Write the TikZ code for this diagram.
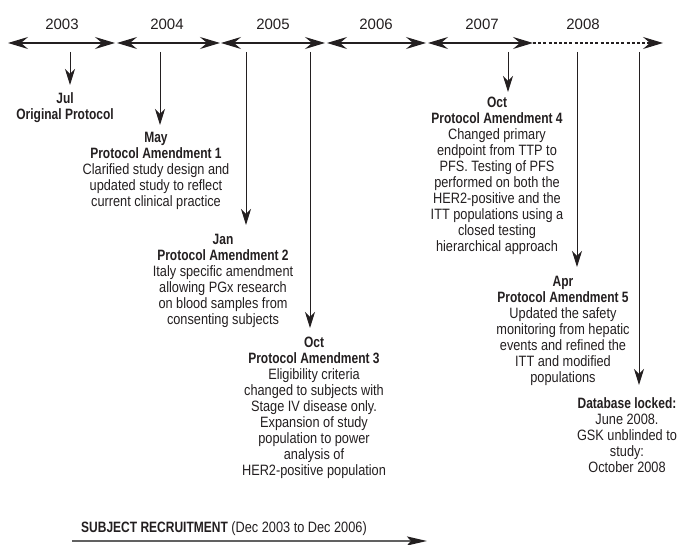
\documentclass[tikz,border=0pt]{standalone}
\usepackage{fontspec}
\setmainfont{Liberation Sans}[FakeStretch=0.85,BoldFeatures={FakeStretch=0.8}]
\newfontfamily\yearfont{Liberation Sans}
\usetikzlibrary{arrows.meta}
\definecolor{ink}{HTML}{231F20}
\begin{document}
\begin{tikzpicture}[x=1pt,y=1pt,
  bighead/.tip={Stealth[length=20pt,width=12pt,inset=7pt]},
  vhead/.tip={Stealth[length=16pt,width=10pt,inset=5pt]},
  tl/.style={line width=1.1pt,draw=ink,bighead-bighead},
  tldash/.style={line width=1.1pt,draw=ink,dash pattern=on 3pt off 2.2pt,-bighead},
  vline/.style={line width=1pt,draw=ink,-vhead},
  year/.style={font=\yearfont\fontsize{15}{16}\selectfont,text=ink,inner sep=0pt},
  lab/.style={align=center,inner sep=0pt,anchor=north,font=\fontsize{15}{16}\selectfont,text=ink},
]
\useasboundingbox (0,0) rectangle (680,545);
% timeline
\coordinate (a0) at (8,502);
\coordinate (a1) at (115,502);
\coordinate (b0) at (117,502);
\coordinate (b1) at (220,502);
\coordinate (c0) at (221,502);
\coordinate (c1) at (325,502);
\coordinate (d0) at (327,502);
\coordinate (d1) at (426,502);
\coordinate (e0) at (428,502);
\coordinate (e1) at (533,502);
\coordinate (f1) at (663,502);
\draw[tldash] (e1) -- (f1);
\draw[tl] (a0) -- (a1);
\draw[tl] (b0) -- (b1);
\draw[tl] (c0) -- (c1);
\draw[tl] (d0) -- (d1);
\draw[tl] (e0) -- (e1);
\node[year] (y3) at (62,521) {2003};
\node[year] (y4) at (167,521) {2004};
\node[year] (y5) at (273,521) {2005};
\node[year] (y6) at (376,521) {2006};
\node[year] (y7) at (482,521) {2007};
\node[year] (y8) at (583,521) {2008};
% labels
\node[lab] (jul) at (65,453) {\textbf{Jul}\\\textbf{Original Protocol}};
\node[lab] (may) at (156,413) {\textbf{May}\\\textbf{Protocol Amendment 1}\\Clarified study design and\\updated study to reflect\\current clinical practice};
\node[lab] (jan) at (223,311) {\textbf{Jan}\\\textbf{Protocol Amendment 2}\\Italy specific amendment\\allowing PGx research\\on blood samples from\\consenting subjects};
\node[lab] (oct5) at (314,208) {\textbf{Oct}\\\textbf{Protocol Amendment 3}\\Eligibility criteria\\changed to subjects with\\Stage IV disease only.\\Expansion of study\\population to power\\analysis of\\HER2-positive population};
\node[lab] (oct7) at (497,448) {\textbf{Oct}\\\textbf{Protocol Amendment 4}\\Changed primary\\endpoint from TTP to\\PFS. Testing of PFS\\performed on both the\\HER2-positive and the\\ITT populations using a\\closed testing\\hierarchical approach};
\node[lab] (apr) at (563,269) {\textbf{Apr}\\\textbf{Protocol Amendment 5}\\Updated the safety\\monitoring from hepatic\\events and refined the\\ITT and modified\\populations};
\node[lab] (db) at (627,148) {\textbf{Database locked:}\\June 2008.\\GSK unblinded to\\study:\\October 2008};
% vertical arrows
\coordinate (s1) at (70,493);  \coordinate (t1) at (70,460);
\coordinate (s2) at (160,493); \coordinate (t2) at (160,420);
\coordinate (s3) at (246,493); \coordinate (t3) at (246,320);
\coordinate (s4) at (310,493); \coordinate (t4) at (310,217);
\coordinate (s5) at (508,493); \coordinate (t5) at (508,453);
\coordinate (s6) at (577,493); \coordinate (t6) at (577,278);
\coordinate (s7) at (639,493); \coordinate (t7) at (639,160);
\draw[vline] (s1) -- (t1);
\draw[vline] (s2) -- (t2);
\draw[vline] (s3) -- (t3);
\draw[vline] (s4) -- (t4);
\draw[vline] (s5) -- (t5);
\draw[vline] (s6) -- (t6);
\draw[vline] (s7) -- (t7);
% recruitment
\node[anchor=base west,inner sep=0pt,font=\fontsize{15}{16}\selectfont,text=ink] (rec) at (81,12) {\textbf{SUBJECT RECRUITMENT} (Dec 2003 to Dec 2006)};
\coordinate (r0) at (72,4);
\coordinate (r1) at (427,4);
\draw[line width=2.2pt,draw=black!62,-{Stealth[length=20pt,width=9pt,inset=4pt,color=ink,fill=ink]}] (r0) -- (r1);
\end{tikzpicture}
\end{document}
